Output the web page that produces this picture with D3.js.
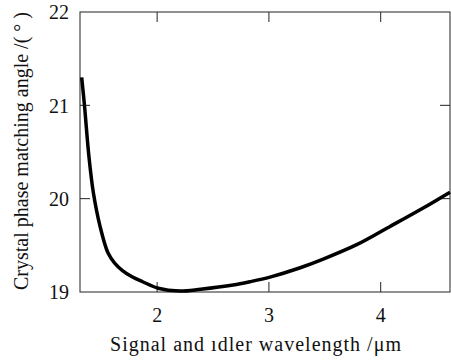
<!DOCTYPE html>
<html>
<head>
<meta charset="utf-8">
<script src="https://cdn.jsdelivr.net/npm/d3@7"></script>
<style>
  body { margin: 0; background: #fff; }
  #wrap { position: relative; width: 451px; height: 361px; overflow: hidden; }
  svg { display: block; position: absolute; left: 0; top: 0; }
  .lbl { position: absolute; left: 0; top: 0; white-space: nowrap;
         font-family: 'Times New Roman';
         font-size: 20px; line-height: normal; color: #111; transform-origin: 0 0; }
</style>
</head>
<body>
<div id="wrap">
<svg id="chart" width="451" height="361"></svg>
</div>
<script>
// values
const wavelength = [1.325, 1.35, 1.39, 1.43, 1.49, 1.56, 1.62, 1.69, 1.78, 1.87, 2.01, 2.2, 2.39, 2.68, 2.83, 3.01, 3.28, 3.48, 3.79, 4.08, 4.38, 4.62];
const angle = [21.30, 21.0, 20.45, 20.06, 19.70, 19.42, 19.31, 19.23, 19.16, 19.11, 19.04, 19.01, 19.03, 19.075, 19.11, 19.16, 19.26, 19.35, 19.51, 19.70, 19.90, 20.07];
const xTicks = [2, 3, 4];
const yTicks = [19, 20, 21, 22];
const xDomain = [1.31, 4.62];
const yDomain = [19, 22];

const wrap = d3.select("#wrap");
const svg = d3.select("#chart");
const plotLeft = 80, plotRight = 450, plotTop = 12, plotBottom = 292;
const ascent = 0.891 * 20; // baseline offset of a Times-like font at 20px

const x = d3.scaleLinear().domain(xDomain).range([plotLeft, plotRight]);
const y = d3.scaleLinear().domain(yDomain).range([plotBottom, plotTop]);

// html text placed by its baseline; anchor: 0 start, -50 middle, -100 end
function label(txt, px, py, anchor, rotate, width) {
    const div = wrap.append("div").attr("class", "lbl").text(txt);
    if (width) {
        const w = div.node().getBoundingClientRect().width;
        div.style("letter-spacing", ((width - w) / txt.length) + "px");
    }
    const rot = rotate ? ` rotate(${rotate}deg)` : "";
    div.style("transform", `translate(${px}px,${py}px)${rot} translate(${anchor}%,${-ascent}px)`);
    return div;
}

// frame
svg.append("rect")
    .attr("x", plotLeft).attr("y", plotTop)
    .attr("width", plotRight - plotLeft).attr("height", plotBottom - plotTop)
    .attr("fill", "none").attr("stroke", "#222").attr("stroke-width", 1);

const tickLen = 10;

// bottom and top ticks (inward)
xTicks.forEach(t => {
    svg.append("line")
        .attr("x1", x(t)).attr("x2", x(t))
        .attr("y1", plotBottom).attr("y2", plotBottom - tickLen)
        .attr("stroke", "#222");
    svg.append("line")
        .attr("x1", x(t)).attr("x2", x(t))
        .attr("y1", plotTop).attr("y2", plotTop + tickLen)
        .attr("stroke", "#222");
    label(String(t), x(t), 322, -50);
});

// left and right ticks (inward)
yTicks.forEach(t => {
    if (t > yDomain[0] && t < yDomain[1]) {
        svg.append("line")
            .attr("x1", plotLeft).attr("x2", plotLeft + tickLen)
            .attr("y1", y(t)).attr("y2", y(t))
            .attr("stroke", "#222");
        svg.append("line")
            .attr("x1", plotRight).attr("x2", plotRight - tickLen)
            .attr("y1", y(t)).attr("y2", y(t))
            .attr("stroke", "#222");
    }
    label(String(t), 69, y(t) + 7, -100);
});

// curve
const pts = wavelength.map((w, i) => [w, angle[i]]);
const line = d3.line()
    .x(d => x(d[0]))
    .y(d => y(d[1]))
    .curve(d3.curveCatmullRom.alpha(0.5));

svg.append("path")
    .datum(pts)
    .attr("d", line)
    .attr("fill", "none")
    .attr("stroke", "#000")
    .attr("stroke-width", 3.5)
    .attr("stroke-linejoin", "round");

// axis titles
label("Signal and ıdler wavelength /μm", 256, 351, -50, 0, 292);
label("Crystal phase matching angle /( ° )", 28, 151, -50, -90, 278);
</script>
</body>
</html>
